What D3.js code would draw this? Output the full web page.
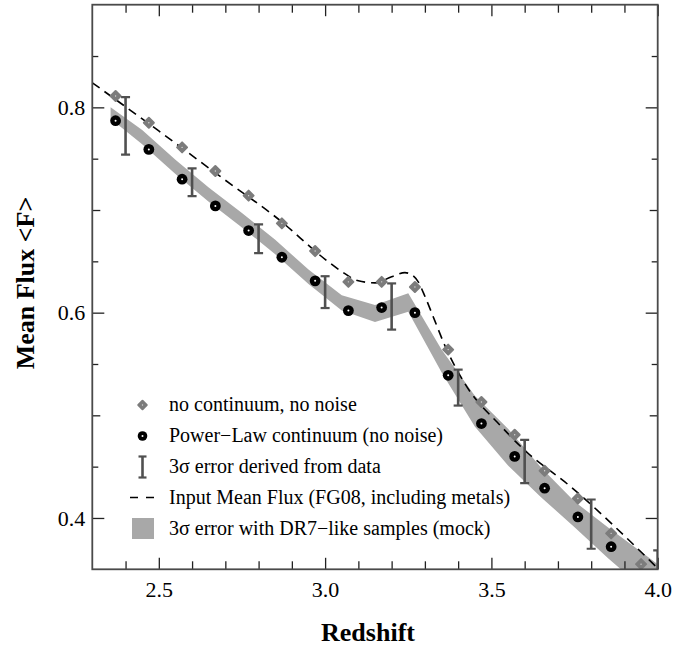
<!DOCTYPE html>
<html>
<head>
<meta charset="utf-8">
<script src="https://cdn.jsdelivr.net/npm/d3@7"></script>
<style>
  body { margin: 0; background: #fff; }
  svg text { font-family: "Liberation Serif", "Times New Roman", serif; }
</style>
</head>
<body>
<svg id="chart" width="698" height="651"></svg>
<script>
// Redshift bins of the mock measurements
const zBins = [2.37, 2.47, 2.57, 2.67, 2.77, 2.87, 2.97, 3.07, 3.17, 3.27, 3.37, 3.47, 3.57, 3.66, 3.76, 3.86, 3.95];
// Mean flux without continuum fitting and without noise
const fluxNoContinuum = [0.811, 0.785, 0.761, 0.738, 0.714, 0.687, 0.660, 0.630, 0.630, 0.625, 0.564, 0.513, 0.481, 0.446, 0.419, 0.385, 0.355];
// Mean flux with a power-law continuum (no noise)
const zPowerLaw = [2.37, 2.47, 2.57, 2.67, 2.77, 2.87, 2.97, 3.07, 3.17, 3.27, 3.37, 3.47, 3.57, 3.66, 3.76, 3.86];
const fluxPowerLaw = [0.787, 0.759, 0.730, 0.704, 0.680, 0.654, 0.631, 0.602, 0.605, 0.600, 0.539, 0.492, 0.460, 0.429, 0.401, 0.372];
// 3-sigma errors derived from data
const zErr = [2.4, 2.6, 2.8, 3.0, 3.2, 3.4, 3.6, 3.8, 4.0];
const errCenter = [0.782, 0.727, 0.672, 0.620, 0.606, 0.527, 0.455, 0.394, 0.345];
const errSigma3 = [0.028, 0.0135, 0.014, 0.0155, 0.0225, 0.0175, 0.021, 0.024, 0.0235];
// Input mean flux (FG08, including metals)
const zInput = [2.30, 2.50, 2.70, 2.86, 3.00, 3.05, 3.10, 3.15, 3.20, 3.24, 3.26, 3.28, 3.30, 3.33, 3.36, 3.42, 3.53, 3.59, 3.74, 4.00];
const fluxInput = [0.824, 0.777, 0.729, 0.691, 0.652, 0.640, 0.631, 0.629, 0.635, 0.639, 0.637, 0.630, 0.616, 0.592, 0.568, 0.531, 0.489, 0.469, 0.430, 0.351];
// 3-sigma band from DR7-like mock samples
const zBand = [2.355, 2.45, 2.55, 2.65, 2.75, 2.85, 2.95, 3.05, 3.15, 3.25, 3.35, 3.45, 3.55, 3.65, 3.75, 3.85, 3.95, 4.05];
const bandHi = [0.800, 0.778, 0.749, 0.722, 0.697, 0.671, 0.642, 0.617, 0.6075, 0.619, 0.564, 0.519, 0.487, 0.449, 0.416, 0.391, 0.367, 0.343];
const bandLo = [0.789, 0.764, 0.735, 0.708, 0.683, 0.657, 0.628, 0.602, 0.591, 0.601, 0.542, 0.489, 0.451, 0.420, 0.391, 0.361, 0.333, 0.305];
// Axis ticks
const xMajor = [2.5, 3.0, 3.5, 4.0];
const xMinor = [2.4, 2.6, 2.7, 2.8, 2.9, 3.1, 3.2, 3.3, 3.4, 3.6, 3.7, 3.8, 3.9];
const yMajor = [0.4, 0.6, 0.8];
const yMid = [0.5, 0.7];
const yMinor = [0.45, 0.55, 0.65, 0.75, 0.85];
const legendLabels = [
  "no continuum, no noise",
  "Power\u2212Law continuum (no noise)",
  "3\u03c3 error derived from data",
  "Input Mean Flux (FG08, including metals)",
  "3\u03c3 error with DR7\u2212like samples (mock)"
];

const svg = d3.select("#chart");
const L = 92.3, R = 657.7, T = 4.7, B = 569.3;
const x = d3.scaleLinear().domain([2.3, 4.0]).range([L, R]);
const y = d3.scaleLinear().domain([0.35, 0.9]).range([B, T]);

const COL_BAND = "#a8a8a8", COL_DIAM = "#7c7c7c", COL_ERR = "#505050", COL_AX = "#4a4a4a";

svg.append("defs").append("clipPath").attr("id", "plotClip")
  .append("rect").attr("x", L).attr("y", T).attr("width", R - L).attr("height", B - T);

const plot = svg.append("g").attr("clip-path", "url(#plotClip)");

// mock error band
const bandData = zBand.map((z, i) => ({ z, hi: bandHi[i], lo: bandLo[i] }));
plot.append("path").datum(bandData)
  .attr("d", d3.area().x(d => x(d.z)).y0(d => y(d.lo)).y1(d => y(d.hi)))
  .attr("fill", COL_BAND);

// input mean flux
const inputData = zInput.map((z, i) => ({ z, f: fluxInput[i] }));
plot.append("path").datum(inputData)
  .attr("d", d3.line().x(d => x(d.z)).y(d => y(d.f)).curve(d3.curveMonotoneX))
  .attr("fill", "none").attr("stroke", "#000").attr("stroke-width", 1.6)
  .attr("stroke-dasharray", "9,6");

// diamonds: no continuum, no noise
function drawDiamond(g, cx, cy, scale) {
  const s = g.append("g").attr("transform", `translate(${cx},${cy})`);
  s.append("path").attr("d", d3.symbol(d3.symbolSquare, 50 * scale * scale)())
    .attr("transform", "rotate(45)")
    .attr("fill", COL_DIAM).attr("stroke", COL_DIAM).attr("stroke-width", 2)
    .attr("stroke-linejoin", "round");
  s.append("circle").attr("r", 0.7).attr("fill", "#d8d8d8");
}
zBins.forEach((z, i) => drawDiamond(plot, x(z), y(fluxNoContinuum[i]), 1));

// circles: power-law continuum
function drawRing(g, cx, cy, r) {
  g.append("circle").attr("cx", cx).attr("cy", cy).attr("r", r).attr("fill", "#000");
  g.append("circle").attr("cx", cx).attr("cy", cy).attr("r", 1.0).attr("fill", "#fff");
}
zPowerLaw.forEach((z, i) => drawRing(plot, x(z), y(fluxPowerLaw[i]), 5.4));

// 3-sigma error bars from data
function drawErrBar(g, cx, y0, y1, capW) {
  g.append("line").attr("x1", cx).attr("x2", cx).attr("y1", y0).attr("y2", y1)
    .attr("stroke", COL_ERR).attr("stroke-width", 2.6);
  [y0, y1].forEach(yy => g.append("line")
    .attr("x1", cx - capW / 2).attr("x2", cx + capW / 2).attr("y1", yy).attr("y2", yy)
    .attr("stroke", COL_ERR).attr("stroke-width", 2.2));
}
zErr.forEach((z, i) => drawErrBar(plot, x(z), y(errCenter[i] + errSigma3[i]), y(errCenter[i] - errSigma3[i]), 9));

// axes: ticks point inward on all four sides
function styleAxis(g) {
  g.select(".domain").remove();
  g.selectAll(".tick line").attr("stroke", "#222").attr("stroke-width", 1.3);
  g.selectAll(".tick text").attr("font-size", 22).attr("fill", "#000")
    .style("font-family", "'Liberation Serif', serif");
}
const fmt = d3.format(".1f");
svg.append("g").attr("transform", `translate(0,${B})`)
  .call(d3.axisBottom(x).tickValues(xMajor).tickSize(-11.5).tickPadding(12).tickFormat(fmt)).call(styleAxis);
svg.append("g").attr("transform", `translate(0,${B})`)
  .call(d3.axisBottom(x).tickValues(xMinor).tickSize(-8).tickFormat("")).call(styleAxis);
svg.append("g").attr("transform", `translate(0,${T})`)
  .call(d3.axisTop(x).tickValues(xMajor).tickSize(-11.5).tickFormat("")).call(styleAxis);
svg.append("g").attr("transform", `translate(0,${T})`)
  .call(d3.axisTop(x).tickValues(xMinor).tickSize(-8).tickFormat("")).call(styleAxis);

svg.append("g").attr("transform", `translate(${L},0)`)
  .call(d3.axisLeft(y).tickValues(yMajor).tickSize(-12).tickPadding(7).tickFormat(fmt)).call(styleAxis);
svg.append("g").attr("transform", `translate(${L},0)`)
  .call(d3.axisLeft(y).tickValues(yMid).tickSize(-8).tickFormat("")).call(styleAxis);
svg.append("g").attr("transform", `translate(${L},0)`)
  .call(d3.axisLeft(y).tickValues(yMinor).tickSize(-6).tickFormat("")).call(styleAxis);
svg.append("g").attr("transform", `translate(${R},0)`)
  .call(d3.axisRight(y).tickValues(yMajor).tickSize(-12).tickFormat("")).call(styleAxis);
svg.append("g").attr("transform", `translate(${R},0)`)
  .call(d3.axisRight(y).tickValues(yMid).tickSize(-8).tickFormat("")).call(styleAxis);
svg.append("g").attr("transform", `translate(${R},0)`)
  .call(d3.axisRight(y).tickValues(yMinor).tickSize(-6).tickFormat("")).call(styleAxis);

// frame
svg.append("rect").attr("x", L).attr("y", T).attr("width", R - L).attr("height", B - T)
  .attr("fill", "none").attr("stroke", COL_AX).attr("stroke-width", 1.8);

// axis titles
svg.append("text").attr("x", 368).attr("y", 641).attr("text-anchor", "middle")
  .attr("font-size", 26).attr("font-weight", "bold").text("Redshift");
svg.append("text").attr("transform", "translate(34,283) rotate(-90)").attr("text-anchor", "middle")
  .attr("font-size", 26).attr("font-weight", "bold").text("Mean Flux <F>");

// legend
const legRows = [405, 436, 467, 497.5, 528.5];
const lg = svg.append("g");
const symX = 142.5, textX = 169;
drawDiamond(lg, symX, legRows[0], 0.85);
drawRing(lg, symX, legRows[1], 4.8);
drawErrBar(lg, symX, legRows[2] - 10.5, legRows[2] + 10.5, 8);
lg.append("line").attr("x1", 130).attr("x2", 154).attr("y1", legRows[3]).attr("y2", legRows[3])
  .attr("stroke", "#000").attr("stroke-width", 1.6).attr("stroke-dasharray", "8,8");
lg.append("rect").attr("x", 132).attr("y", legRows[4] - 10.5).attr("width", 22).attr("height", 21)
  .attr("fill", COL_BAND);
legendLabels.forEach((t, i) => lg.append("text").attr("x", textX).attr("y", legRows[i] + 6)
  .attr("font-size", 20).attr("fill", "#000").text(t));
</script>
</body>
</html>
